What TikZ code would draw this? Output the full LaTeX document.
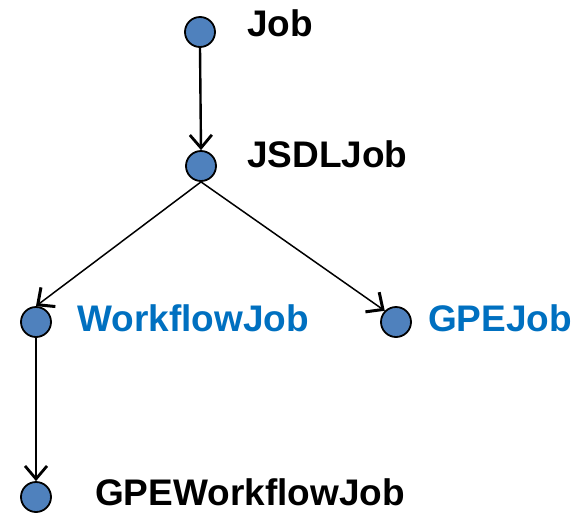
\documentclass[tikz,border=0pt]{standalone}
\usepackage{fontspec}
\setmainfont{Liberation Sans}
\usetikzlibrary{arrows.meta}
\definecolor{dotfill}{HTML}{4F81BD}
\definecolor{leafblue}{HTML}{0070C0}
\begin{document}
\begin{tikzpicture}[x=1pt,y=-1pt,
  dot/.style={circle,draw=black,line width=1.8pt,fill=dotfill,minimum size=30pt,inner sep=0pt},
  lbl/.style={anchor=base west,inner sep=0pt,font=\fontsize{37}{40}\selectfont\bfseries},
  vlink/.style={line width=2.4pt,-{Straight Barb[length=13pt,width=22pt,line width=2.8pt]}},
  dlink/.style={line width=1.5pt,-{Straight Barb[length=13pt,width=24pt,line width=3pt]}}]
  \useasboundingbox (0,0) rectangle (584,512);
  % class nodes
  \node[dot] (job)  at (200,32)  {};
  \node[dot] (jsdl) at (201,166) {};
  \node[dot] (wf)   at (36,322)  {};
  \node[dot] (gpe)  at (396,322) {};
  \node[dot] (gwf)  at (36,497)  {};
  % labels
  \node[lbl] (tjob)  at (247,36)  {Job};
  \node[lbl] (tjsdl) at (247,167) {JSDLJob};
  \node[lbl,text=leafblue] (twf)  at (77,331)  {WorkflowJob};
  \node[lbl,text=leafblue] (tgpe) at (428,331) {GPEJob};
  \node[lbl] (tgwf)  at (95,505)  {GPEWorkflowJob};
  % inheritance links
  \draw[vlink] (job.south) -- (jsdl.north);
  \draw[dlink] (jsdl.south) -- (wf.north);
  \draw[dlink] (jsdl.south) -- (gpe.north west);
  \draw[vlink,line width=1.6pt] (wf.south) -- (gwf.north);
\end{tikzpicture}
\end{document}
